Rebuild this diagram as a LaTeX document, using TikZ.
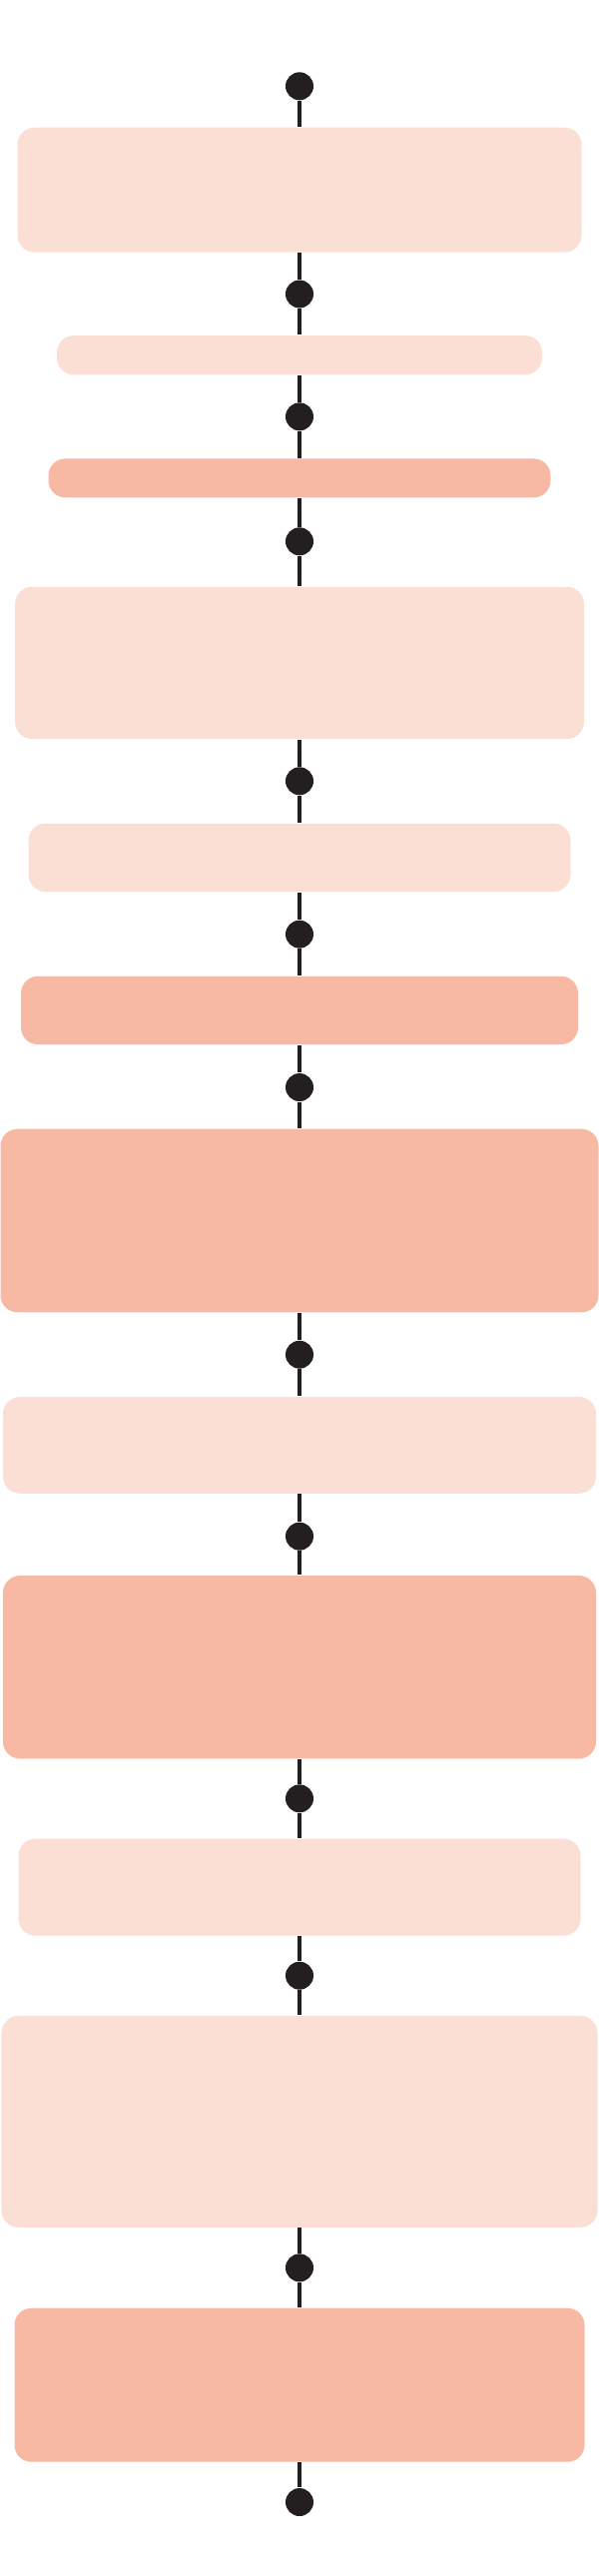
\documentclass[tikz,border=0pt]{standalone}
\usepackage{tikz}
\definecolor{paleSalmon}{HTML}{FBDED4}
\definecolor{deepSalmon}{HTML}{F8B9A4}
\definecolor{pinInk}{HTML}{231F20}
\tikzset{
  stagebox/.style = {rectangle,rounded corners=1.7mm,inner sep=0pt,draw=none},
  pin/.style      = {circle,fill=pinInk,inner sep=0pt,minimum size=2.8mm},
  spine/.style    = {pinInk,line width=1.3pt}
}

\begin{document}
\begin{tikzpicture}[x=0.1mm,y=-0.1mm]
  \useasboundingbox (0,0) rectangle (600,2580);
  % stages: index / centre y / width / height / fill
  \foreach \i/\yy/\w/\h/\c in {1/190.2/565/125/paleSalmon,
                               2/355.7/486/39.3/paleSalmon,
                               3/478.8/503/39/deepSalmon,
                               4/663.9/570/152.3/paleSalmon,
                               5/858.9/543/68.3/paleSalmon,
                               6/1011.9/558/68.3/deepSalmon,
                               7/1222.5/599/183.6/deepSalmon,
                               8/1447.4/594/96.7/paleSalmon,
                               9/1669.7/594/183.3/deepSalmon,
                               10/1890.2/563/97/paleSalmon,
                               11/2124.9/597/211.7/paleSalmon,
                               12/2388.7/571/154/deepSalmon}
    \node[stagebox,fill=\c,minimum width=\w*0.1mm,minimum height=\h*0.1mm] (b\i) at (300,\yy) {};
  % pins on the spine
  \foreach \i/\yy in {1/86.3,2/294.5,3/417.3,4/542.3,5/782.3,6/935.7,7/1089,
                      8/1356.7,9/1538.7,10/1801.3,11/1978.7,12/2271.3,13/2506}
    \node[pin] (d\i) at (300,\yy) {};
  % spine segments
  \foreach \i [evaluate=\i as \j using int(\i+1)] in {1,...,12} {
    \draw[spine] (d\i) -- (b\i);
    \draw[spine] (b\i) -- (d\j);
  }
\end{tikzpicture}
\end{document}
